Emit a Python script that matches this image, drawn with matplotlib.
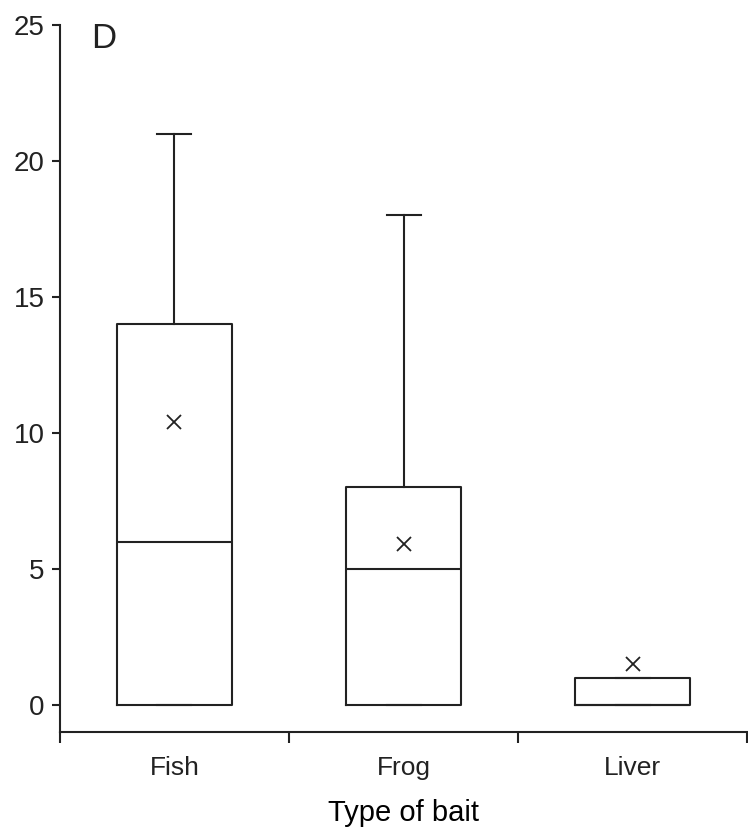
import matplotlib
matplotlib.use('Agg')
import matplotlib.pyplot as plt

# data
baits = ['Fish', 'Frog', 'Liver']
q1 = [0, 0, 0]
median = [6, 5, 0]
q3 = [14, 8, 1]
whisker_lo = [0, 0, 0]
whisker_hi = [21, 18, 1]
means = [10.4, 5.9, 1.5]

plt.rcParams['font.family'] = ['Liberation Sans', 'DejaVu Sans']
plt.rcParams['text.color'] = '#222222'
plt.rcParams['xtick.labelcolor'] = '#222222'
plt.rcParams['ytick.labelcolor'] = '#222222'

fig = plt.figure(figsize=(7.48, 8.32), dpi=100)
ax = fig.add_axes([0.080, 0.120, 0.919, 0.850])

stats = []
for i in range(len(baits)):
    stats.append({'label': baits[i], 'q1': q1[i], 'med': median[i], 'q3': q3[i],
                  'whislo': whisker_lo[i], 'whishi': whisker_hi[i],
                  'mean': means[i], 'fliers': []})

line = dict(color='#222222', linewidth=1.5)
ax.bxp(stats, positions=[1, 2, 3], widths=0.5, showmeans=True,
       boxprops=line, medianprops=line, whiskerprops=line,
       capprops=line, capwidths=0.148,
       meanprops=dict(marker='x', markersize=10, markeredgecolor='#222222',
                      markeredgewidth=1.3, linestyle='none'))

ax.set_xlim(0.5, 3.5)
ax.set_ylim(-1, 25)
ax.spines['top'].set_visible(False)
ax.spines['right'].set_visible(False)
ax.spines['left'].set_bounds(-1, 25)
for s in ['left', 'bottom']:
    ax.spines[s].set_linewidth(1.5)
    ax.spines[s].set_color('#222222')

ax.set_yticks([0, 5, 10, 15, 20, 25])
ax.tick_params(axis='y', length=6, width=1.5, color='#222222', labelsize=20, pad=5)

# category boundaries get tick marks, names sit between them
ax.set_xticks([0.5, 1.5, 2.5, 3.5])
ax.set_xticklabels([])
ax.set_xticks([1, 2, 3], minor=True)
ax.set_xticklabels(baits, minor=True)
ax.tick_params(axis='x', which='major', length=8, width=1.5, color='#222222')
ax.tick_params(axis='x', which='minor', length=0, labelsize=19, pad=17)

ax.set_xlabel('Type of bait', fontsize=21, labelpad=14)
ax.text(0.045, 1.004, 'D', transform=ax.transAxes, fontsize=25, va='top', ha='left')

fig.savefig('out.png', dpi=100)
